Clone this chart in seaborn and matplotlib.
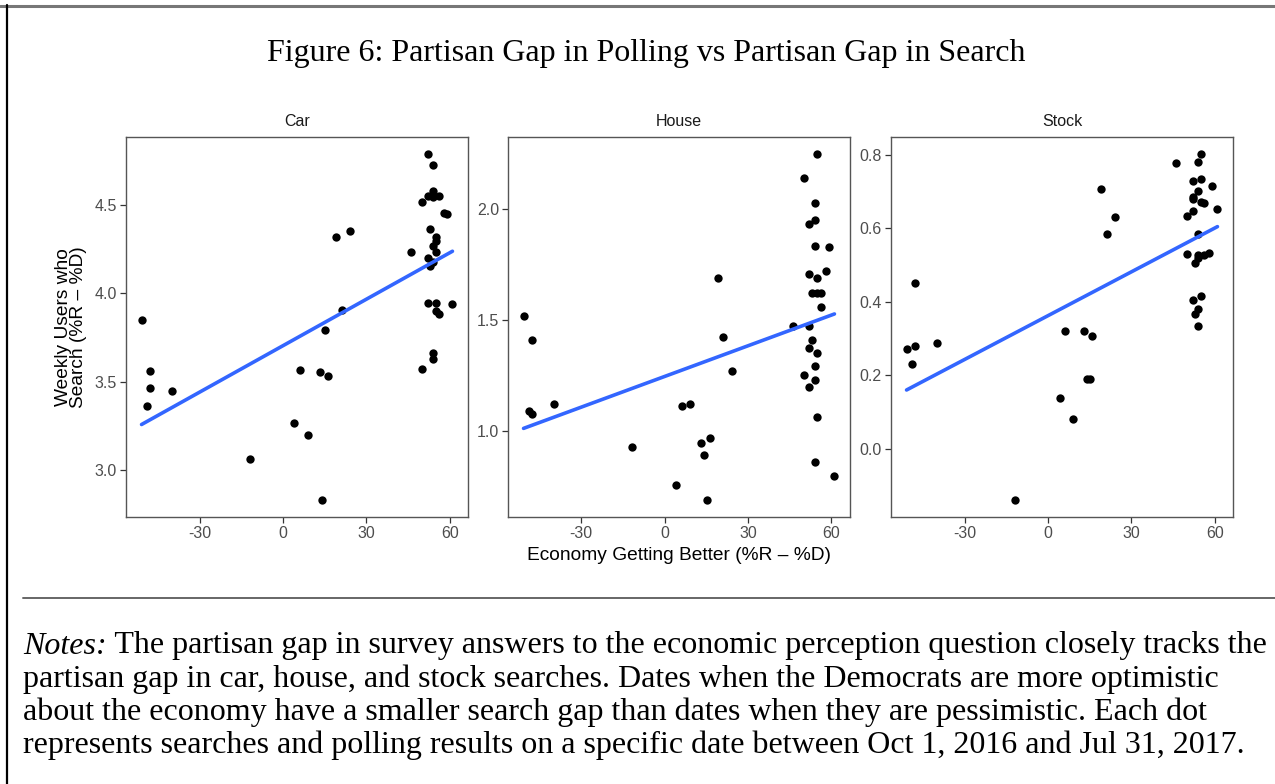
import numpy as np
import pandas as pd
import matplotlib
matplotlib.use("Agg")
import matplotlib.pyplot as plt
from matplotlib.ticker import FormatStrFormatter, FixedLocator
import seaborn as sns

# ---------------- data ----------------
panels = ["Car", "House", "Stock"]

car_x = [-50.9, -47.9, -47.9, -48.8, -39.8, -11.8, 3.9, 6.1, 9.1, 13.2, 14.1, 15.2, 16.2,
         19.0, 21.1, 24.1, 46.1, 50.0, 50.0, 52.1, 52.1, 52.1, 52.1, 53.0, 53.0,
         54.1, 54.1, 54.1, 54.1, 54.1, 54.1, 54.1, 55.0, 55.0, 55.0, 55.0, 55.0,
         56.1, 56.1, 58.0, 59.1, 61.0]
car_y = [3.85, 3.563, 3.467, 3.362, 3.449, 3.063, 3.268, 3.567, 3.200, 3.554, 2.831, 3.793, 3.533,
         4.318, 3.906, 4.356, 4.233, 4.516, 3.571, 4.789, 4.551, 4.201, 3.944, 4.363, 4.154,
         4.728, 4.578, 4.546, 4.271, 4.179, 3.665, 3.627, 4.320, 4.296, 4.233, 3.944, 3.900,
         4.555, 3.885, 4.455, 4.448, 3.940]

house_x = [-50.7, -47.7, -48.7, -47.7, -39.7, -11.8, 4.2, 6.2, 9.2, 13.2, 14.1, 15.2, 16.2,
           19.1, 21.2, 24.2, 46.1, 50.0, 50.0, 52.1, 52.1, 52.1, 52.1, 52.1, 53.0, 53.0,
           54.1, 54.1, 54.1, 54.1, 54.1, 54.1, 55.0, 55.0, 55.0, 55.0, 55.0,
           56.1, 56.1, 58.0, 59.1, 61.1]
house_y = [1.520, 1.411, 1.091, 1.076, 1.121, 0.930, 0.759, 1.115, 1.123, 0.946, 0.894, 0.691, 0.970,
           1.691, 1.427, 1.273, 1.475, 2.144, 1.255, 1.936, 1.708, 1.475, 1.375, 1.201, 1.625, 1.411,
           2.028, 1.954, 1.834, 1.292, 1.231, 0.859, 2.249, 1.693, 1.622, 1.354, 1.066,
           1.622, 1.562, 1.724, 1.832, 0.796]

stock_x = [-50.9, -48.8, -47.9, -47.9, -39.8, -11.8, 4.2, 6.1, 9.1, 13.0, 14.0, 15.0, 16.0,
           19.0, 21.1, 24.1, 46.1, 50.0, 50.0, 52.1, 52.1, 52.1, 52.1, 52.1, 53.0, 53.0,
           54.1, 54.1, 54.1, 54.1, 54.1, 54.1, 54.1, 55.0, 55.0, 55.0, 55.0,
           56.1, 56.1, 58.0, 59.0, 61.0]
stock_y = [0.271, 0.229, 0.452, 0.279, 0.287, -0.139, 0.138, 0.321, 0.080, 0.321, 0.189, 0.189, 0.306,
           0.706, 0.585, 0.631, 0.777, 0.634, 0.529, 0.729, 0.686, 0.678, 0.648, 0.405, 0.504, 0.366,
           0.779, 0.700, 0.584, 0.528, 0.519, 0.380, 0.334, 0.801, 0.734, 0.672, 0.416,
           0.669, 0.526, 0.533, 0.716, 0.652]

x_ticks = [-30, 0, 30, 60]
y_ticks = {"Car": [3.0, 3.5, 4.0, 4.5],
           "House": [1.0, 1.5, 2.0],
           "Stock": [0.0, 0.2, 0.4, 0.6, 0.8]}

title = "Figure 6: Partisan Gap in Polling vs Partisan Gap in Search"
x_label = "Economy Getting Better (%R \u2013 %D)"
y_label = "Weekly Users who\nSearch (%R \u2013 %D)"
notes_lead = "Notes:"
notes_lines = [
    " The partisan gap in survey answers to the economic perception question closely tracks the",
    "partisan gap in car, house, and stock searches. Dates when the Democrats are more optimistic",
    "about the economy have a smaller search gap than dates when they are pessimistic. Each dot",
    "represents searches and polling results on a specific date between Oct 1, 2016 and Jul 31, 2017.",
]

frames = {
    "Car": pd.DataFrame({"x": car_x, "y": car_y}),
    "House": pd.DataFrame({"x": house_x, "y": house_y}),
    "Stock": pd.DataFrame({"x": stock_x, "y": stock_y}),
}

# ---------------- figure ----------------
sns.set_theme(style="white")
plt.rcParams["font.family"] = ["Liberation Sans", "DejaVu Sans"]

W, H = 1275, 784
fig = plt.figure(figsize=(W / 100, H / 100), dpi=100)
fig.patch.set_facecolor("white")

def fx(px):
    return px / W

def fy(py):
    return 1 - py / H

panel_left = [126, 508, 891]
panel_w = 342
panel_top, panel_bot = 137, 517

grey_txt = "#4D4D4D"
for name, left in zip(panels, panel_left):
    ax = fig.add_axes([fx(left), fy(panel_bot), panel_w / W, (panel_bot - panel_top) / H])
    df = frames[name]
    sns.regplot(data=df, x="x", y="y", ax=ax, ci=None, truncate=True,
                scatter_kws=dict(color="black", s=36, linewidths=0, alpha=1),
                line_kws=dict(color="#3366FF", lw=2.6))
    xr = df["x"].max() - df["x"].min()
    yr = df["y"].max() - df["y"].min()
    ax.set_xlim(df["x"].min() - 0.05 * xr, df["x"].max() + 0.05 * xr)
    ax.set_ylim(df["y"].min() - 0.05 * yr, df["y"].max() + 0.05 * yr)
    ax.xaxis.set_major_locator(FixedLocator(x_ticks))
    ax.yaxis.set_major_locator(FixedLocator(y_ticks[name]))
    ax.xaxis.set_major_formatter(FormatStrFormatter("%d"))
    ax.yaxis.set_major_formatter(FormatStrFormatter("%.1f"))
    ax.set_xlabel("")
    ax.set_ylabel("")
    ax.grid(False)
    ax.set_facecolor("white")
    for sp in ax.spines.values():
        sp.set_visible(True)
        sp.set_color("#555555")
        sp.set_linewidth(1.0)
    ax.tick_params(axis="both", which="major", direction="out", length=4, width=0.9,
                   color="#333333", labelcolor=grey_txt, labelsize=11.5, pad=2.5,
                   bottom=True, left=True)
    fig.text(fx(left + panel_w / 2), fy(121), name, ha="center", va="center",
             fontsize=11.5, color="#1A1A1A")

# axis labels
fig.text(fx(71), fy(327), y_label, rotation=90, ha="center", va="center",
         multialignment="center", fontsize=13.8, color="black", linespacing=0.92)
fig.text(fx(679), fy(556), x_label, ha="center", va="center", fontsize=13.8, color="black")

# title
serif = ["Liberation Serif", "DejaVu Serif"]
fig.text(fx(646), fy(54), title, ha="center", va="center", fontsize=23, family=serif,
         color="black")

# frame lines
fig.add_artist(plt.Line2D([0, 1], [fy(5.5), fy(5.5)], transform=fig.transFigure,
                          color="#777777", lw=2.2))
fig.add_artist(plt.Line2D([fx(6.5), fx(6.5)], [fy(5), 0], transform=fig.transFigure,
                          color="black", lw=1.6))
fig.add_artist(plt.Line2D([fx(23), 1], [fy(598), fy(598)], transform=fig.transFigure,
                          color="#666666", lw=1.4))

# notes
line_y = [646, 679, 712, 745]
lead = fig.text(fx(23), fy(line_y[0]), notes_lead, ha="left", va="center", fontsize=23,
                family=serif, style="italic", color="black")
fig.canvas.draw()
bb = lead.get_window_extent()
fig.text(bb.x1 / W, fy(line_y[0]), notes_lines[0], ha="left", va="center", fontsize=23,
         family=serif, color="black")
for txt, yy in zip(notes_lines[1:], line_y[1:]):
    fig.text(fx(23), fy(yy), txt, ha="left", va="center", fontsize=23, family=serif,
             color="black")

fig.savefig("out.png", dpi=100, facecolor="white")
